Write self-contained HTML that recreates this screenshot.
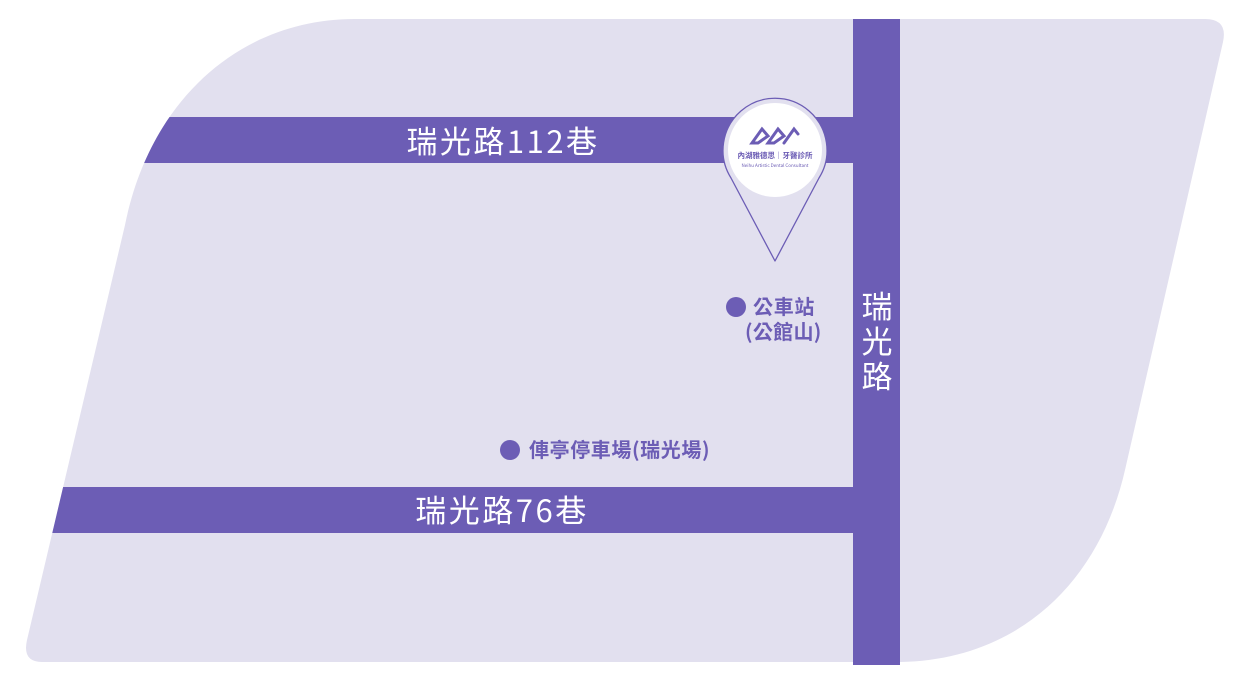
<!DOCTYPE html>
<html><head><meta charset="utf-8"><style>
html,body{margin:0;padding:0;background:#fff;width:1251px;height:676px;overflow:hidden}
text{font-family:"Noto Sans CJK TC","Liberation Sans",sans-serif}
</style></head><body>
<svg width="1251" height="676" viewBox="0 0 1251 676" xmlns="http://www.w3.org/2000/svg">
<defs>
<clipPath id="c"><path d="M355,19 L1205,19 Q1228,19 1223,42 L1125,470 C1100,580 1020,660 900,662 L42,662 Q22,662 27,640 L125,225 C150,100 240,19 355,19 Z"/></clipPath>
</defs>
<path d="M355,19 L1205,19 Q1228,19 1223,42 L1125,470 C1100,580 1020,660 900,662 L42,662 Q22,662 27,640 L125,225 C150,100 240,19 355,19 Z" fill="#e2e0ef"/>
<g clip-path="url(#c)" fill="#6c5db5">
<rect x="0" y="117" width="853" height="46"/>
<rect x="0" y="487" width="853" height="46"/>
</g>
<rect x="853" y="19" width="47" height="646" fill="#6c5db5"/>
<text x="503" y="153" font-size="31" fill="#fff" text-anchor="middle" letter-spacing="2.5">瑞光路112巷</text>
<text x="502" y="522" font-size="31" fill="#fff" text-anchor="middle" letter-spacing="2.5">瑞光路76巷</text>
<text x="877" y="318" font-size="31" fill="#fff" text-anchor="middle">瑞</text>
<text x="877" y="353" font-size="31" fill="#fff" text-anchor="middle">光</text>
<text x="877" y="388" font-size="31" fill="#fff" text-anchor="middle">路</text>
<!-- pin -->
<path d="M775,261 L731,178 A52,52 0 1 1 819,178 Z" fill="#e2e0ef" stroke="#6c5db5" stroke-width="1.3" stroke-linejoin="round"/>
<circle cx="775" cy="150" r="47" fill="#fff"/>
<g fill="none" stroke="#6c5db5" stroke-width="3" stroke-linecap="round">
<path d="M752,143 L762,129 L768,136 L758,143 Z"/>
<path d="M768,143 L778,129 L784,136 L774,143 Z"/>
<path d="M784,143 L794,129 L798,134"/>
</g>
<text x="775" y="158" font-size="7.5" fill="#6c5db5" text-anchor="middle" font-weight="bold">內湖雅德思｜牙醫診所</text>
<text x="775" y="167" font-size="4.5" fill="#6c5db5" text-anchor="middle">Neihu Artistic Dental Consultant</text>
<!-- POIs -->
<circle cx="736" cy="307" r="10" fill="#6c5db5"/>
<text x="753" y="314" font-size="20" font-weight="bold" fill="#6c5db5" letter-spacing="0.7">公車站</text>
<text x="745" y="339" font-size="20" font-weight="bold" fill="#6c5db5" letter-spacing="0.3">(公館山)</text>
<circle cx="510" cy="450" r="10" fill="#6c5db5"/>
<text x="529" y="457" font-size="20" font-weight="bold" fill="#6c5db5" letter-spacing="0.6">俥亭停車場(瑞光場)</text>
</svg>
</body></html>
